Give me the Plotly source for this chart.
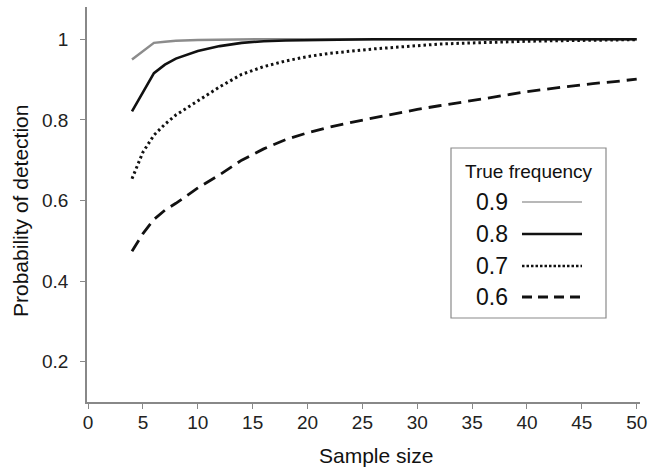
import plotly.graph_objects as go

sample_size = [4, 5, 6, 7, 8, 10, 12, 14, 16, 18, 20, 22, 24, 26, 28, 30,
               32, 34, 36, 38, 40, 42, 44, 46, 48, 50]
p09 = [0.950, 0.971, 0.991, 0.994, 0.996, 0.998, 0.999, 1.0, 1.0, 1.0, 1.0, 1.0, 1.0, 1.0,
       1.0, 1.0, 1.0, 1.0, 1.0, 1.0, 1.0, 1.0, 1.0, 1.0, 1.0, 1.0]
p08 = [0.821, 0.868, 0.916, 0.937, 0.952, 0.971, 0.983, 0.991, 0.995, 0.997, 0.998, 0.999,
       1.0, 1.0, 1.0, 1.0, 1.0, 1.0, 1.0, 1.0, 1.0, 1.0, 1.0, 1.0, 1.0, 1.0]
p07 = [0.654, 0.720, 0.762, 0.789, 0.812, 0.848, 0.882, 0.913, 0.932, 0.946, 0.957, 0.965,
       0.971, 0.976, 0.980, 0.984, 0.988, 0.990, 0.992, 0.994, 0.995, 0.996,
       0.997, 0.998, 0.998, 0.999]
p06 = [0.474, 0.518, 0.553, 0.576, 0.593, 0.631, 0.664, 0.700, 0.728, 0.751, 0.768, 0.782,
       0.794, 0.805, 0.815, 0.826, 0.835, 0.843, 0.852, 0.861, 0.870, 0.877,
       0.884, 0.890, 0.895, 0.901]
legend_labels = ["0.9", "0.8", "0.7", "0.6"]
x_ticks = [0, 5, 10, 15, 20, 25, 30, 35, 40, 45, 50]
y_ticks = [0.2, 0.4, 0.6, 0.8, 1.0]
y_tick_text = ["0.2", "0.4", "0.6", "0.8", "1"]

styles = [
    dict(color="#8c8c8c", width=2.5, dash="solid"),
    dict(color="#111111", width=2.6, dash="solid"),
    dict(color="#111111", width=3.0, dash="2.5px,3px"),
    dict(color="#111111", width=2.8, dash="13px,7px"),
]
series = [p09, p08, p07, p06]

fig = go.Figure()
for vals, st, name in zip(series, styles, legend_labels):
    fig.add_trace(go.Scatter(x=sample_size, y=vals, mode="lines", name=name,
                             line=dict(color=st["color"], width=st["width"], dash=st["dash"]),
                             showlegend=False))

W, H = 653, 472
L, R, T, B = 87, 13, 7, 70
pw, ph = W - L - R, H - T - B

def px(x):
    return (x - L) / pw

def py(y):
    return (H - B - y) / ph

font = "Liberation Sans, Arial, sans-serif"

shapes = [dict(type="rect", xref="paper", yref="paper",
               x0=px(451), x1=px(606), y0=py(318), y1=py(148),
               line=dict(color="#8a8a8a", width=1.2), fillcolor="white", layer="above")]
annotations = [
    dict(text="True frequency", xref="paper", yref="paper",
         x=px(529), y=py(171), showarrow=False, xanchor="center", yanchor="middle",
         font=dict(family=font, size=19, color="#111")),
    dict(text="Sample size", xref="paper", yref="paper",
         x=px(376), y=py(455), showarrow=False, xanchor="center", yanchor="middle",
         font=dict(family=font, size=21, color="#111")),
    dict(text="Probability of detection", xref="paper", yref="paper", textangle=-90,
         x=px(20), y=py(211), showarrow=False, xanchor="center", yanchor="middle",
         font=dict(family=font, size=21, color="#111")),
]
rows = [202, 234, 266, 297]
leg_styles = [
    dict(color="#a0a0a0", width=1.6, dash="solid"),
    dict(color="#111111", width=2.6, dash="solid"),
    dict(color="#111111", width=2.6, dash="2.5px,2px"),
    dict(color="#111111", width=2.8, dash="10px,6px"),
]
for lab, yy, st in zip(legend_labels, rows, leg_styles):
    annotations.append(dict(text=lab, xref="paper", yref="paper", x=px(492), y=py(yy),
                            xanchor="center", yanchor="middle",
                            showarrow=False, font=dict(family=font, size=23, color="#111")))
    shapes.append(dict(type="line", xref="paper", yref="paper",
                       x0=px(522), x1=px(582), y0=py(yy), y1=py(yy),
                       line=dict(color=st["color"], width=st["width"], dash=st["dash"]),
                       layer="above"))

fig.update_layout(
    width=W, height=H,
    margin=dict(l=L, r=R, t=T, b=B, autoexpand=False),
    paper_bgcolor="white", plot_bgcolor="white",
    shapes=shapes, annotations=annotations,
    font=dict(family=font, color="#111"),
    xaxis=dict(range=[-0.1, 50.3], tickvals=x_ticks, ticks="outside", ticklen=5,
               tickcolor="#888", showline=True, linecolor="#888", linewidth=1.5,
               showgrid=False, zeroline=False, tickfont=dict(size=19, color="#222"),
               automargin=False, ticklabelstandoff=-3),
    yaxis=dict(range=[0.1, 1.08], tickvals=y_ticks, ticktext=y_tick_text, ticks="outside",
               ticklen=5, tickcolor="#888", showline=True, linecolor="#888", linewidth=1.5,
               showgrid=False, zeroline=False, tickfont=dict(size=19, color="#222"),
               automargin=False, ticklabelstandoff=8),
)

fig.write_html("out.html", config={"displayModeBar": False},
               post_script="document.body.style.margin='0';")
